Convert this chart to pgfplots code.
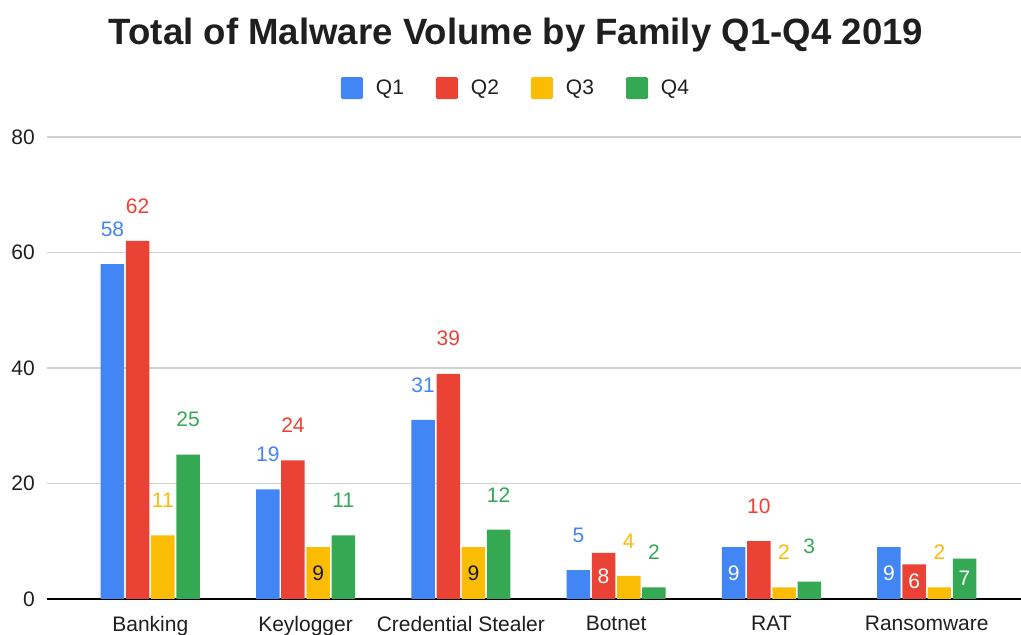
\documentclass[border=0pt]{standalone}
\usepackage{pgfplots}
\pgfplotsset{compat=1.18}
\usepackage{pgfplotstable}
\usepackage{fontspec}
\setmainfont{Liberation Sans}

\definecolor{q1}{HTML}{4285F4}
\definecolor{q2}{HTML}{EA4335}
\definecolor{q3}{HTML}{FBBC04}
\definecolor{q4}{HTML}{34A853}
% label colours by code: 1-4 series colours, 5 white, 6 black
\colorlet{lbl1}{q1}
\colorlet{lbl2}{q2}
\colorlet{lbl3}{q3}
\colorlet{lbl4}{q4}
\colorlet{lbl5}{white}
\colorlet{lbl6}{black!90}

% x: family index, y: volume, in: 1 = label inside the bar, tc: label colour code
\pgfplotstableread{
x y  in tc
0 58 0 1
1 19 0 1
2 31 0 1
3 5  0 1
4 9  1 5
5 9  1 5
}\qone
\pgfplotstableread{
x y  in tc
0 62 0 2
1 24 0 2
2 39 0 2
3 8  1 5
4 10 0 2
5 6  1 5
}\qtwo
\pgfplotstableread{
x y  in tc
0 11 0 3
1 9  1 6
2 9  1 6
3 4  0 3
4 2  0 3
5 2  0 3
}\qthree
\pgfplotstableread{
x y  in tc
0 25 0 4
1 11 0 4
2 12 0 4
3 2  0 4
4 3  0 4
5 7  1 5
}\qfour

\newcommand\lbl{\fontsize{21}{25}\selectfont}

\begin{document}
\begin{tikzpicture}
\begin{axis}[
  name=ax,
  x=155.3pt, y=5.775pt,
  xmin=-0.665, xmax=5.607, ymin=0, ymax=80,
  ybar=1.7pt, bar width=23.5pt,
  axis lines=left, axis line style={-},
  y axis line style={draw=none},
  x axis line style={black, line width=1.3pt},
  ymajorgrids, grid style={line width=1.3pt, color=black!18},
  major tick length=0pt,
  ytick={0,20,40,60,80},
  xtick={0,...,5},
  xticklabels={Banking, Keylogger, Credential Stealer, Botnet, RAT, Ransomware},
  tick label style={font=\lbl, text=black!88},
  yticklabel style={anchor=east, inner sep=0pt, xshift=-12pt},
  xticklabel style={anchor=north, inner sep=0pt, yshift=-17pt},
  /pgf/number format/assume math mode=true,
  nodes near coords,
  visualization depends on={\thisrow{in} \as \inside},
  visualization depends on={\thisrow{y} \as \yval},
  visualization depends on={\thisrow{tc} \as \tcnum},
  nodes near coords style={font=\lbl, anchor=center, inner sep=0pt,
    /utils/exec={\pgfmathtruncatemacro\tci{\tcnum}\pgfmathsetmacro\dy{35*(1-\inside)-2.8875*\yval*\inside}},
    text=lbl\tci, yshift=\dy pt},
  legend columns=4,
  legend style={draw=none, fill=none, at={(0.4815,1.106)}, anchor=center,
    font=\lbl, text=black!88,
    /tikz/every odd column/.append style={column sep=11pt},
    /tikz/every even column/.append style={column sep=30pt}},
  legend image code/.code={\fill[rounded corners=1.5pt] (0pt,-11pt) rectangle (22pt,11pt);},
]
\addplot[fill=q1, draw=none] table[x=x, y=y] {\qone};
\addplot[fill=q2, draw=none] table[x=x, y=y] {\qtwo};
\addplot[fill=q3, draw=none] table[x=x, y=y] {\qthree};
\addplot[fill=q4, draw=none] table[x=x, y=y] {\qfour};
\legend{Q1, Q2, Q3, Q4}
\end{axis}
\node[anchor=base, font=\bfseries\fontsize{36.6}{40}\selectfont, text=black!88]
  at ([xshift=469pt, yshift=92pt]ax.north west) {Total of Malware Volume by Family Q1-Q4 2019};
\pgfresetboundingbox
\path[use as bounding box] ([xshift=-47pt, yshift=-36pt]ax.south west)
  rectangle ([yshift=137pt]ax.north east);
\end{tikzpicture}
\end{document}
